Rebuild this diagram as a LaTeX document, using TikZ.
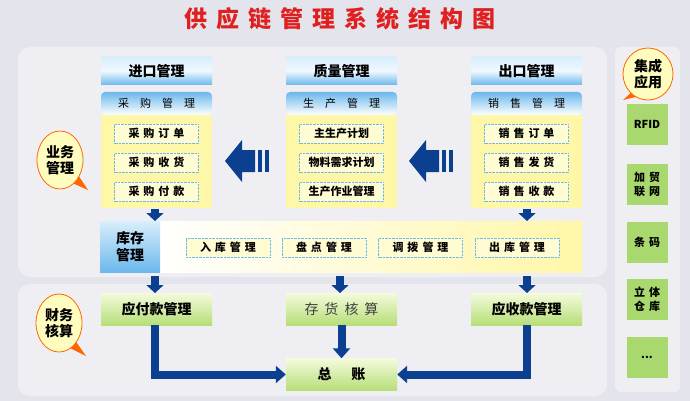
\documentclass[tikz,border=0pt]{standalone}
\usepackage{fontspec}
\setmainfont{Noto Sans CJK SC}
\usetikzlibrary{arrows.meta,shapes.geometric}
\definecolor{bg}{HTML}{E4E4EC}
\definecolor{panel}{HTML}{EFEFF3}
\definecolor{dblue}{HTML}{0B3F8F}
\definecolor{lblue}{HTML}{D8EEFC}
\definecolor{mblue}{HTML}{6CB8EC}
\definecolor{ylw}{HTML}{FFF7A8}
\definecolor{gtop}{HTML}{F4FBDC}
\definecolor{gbot}{HTML}{B6DE78}
\definecolor{rgreen}{HTML}{A9D86E}
\definecolor{ttl}{HTML}{E02020}
\newcommand\gapx{\hspace{4pt}}
\tikzset{
 hdr/.style={minimum width=111pt,minimum height=28pt,top color=lblue,bottom color=mblue,middle color=white!60!lblue,font=\fontsize{14}{14}\selectfont\bfseries,text=black,inner sep=0},
 sub/.style={minimum width=111pt,minimum height=23pt,rounded corners=4pt,top color=mblue,bottom color=white,font=\fontsize{11}{11}\selectfont,inner sep=0},
 body/.style={minimum width=111pt,minimum height=93pt,fill=ylw,inner sep=0},
 item/.style={draw=mblue,densely dotted,minimum width=84pt,minimum height=19pt,inner sep=0,font=\fontsize{11}{11}\selectfont\bfseries,fill=ylw!50!white},
 gbox/.style={minimum width=111pt,minimum height=32pt,top color=gtop,bottom color=gbot,inner sep=0,font=\fontsize{14}{14}\selectfont\bfseries},
 rbox/.style={minimum width=41pt,minimum height=41pt,fill=rgreen,inner sep=0,font=\fontsize{11}{14}\selectfont\bfseries,align=center},
 bub/.style={ellipse,draw=orange!80!red,fill=yellow!25,line width=0.8pt,minimum width=46pt,minimum height=58pt,inner sep=0,font=\fontsize{14}{16}\selectfont\bfseries,align=center},
 flow/.style={dblue,line width=8pt,-{Triangle[width=17pt,length=10pt]}},
 short/.style={dblue,line width=8pt,-{Triangle[width=17pt,length=8pt]}},
}
\begin{document}
\begin{tikzpicture}[x=1pt,y=-1pt]
\useasboundingbox (0,0) rectangle (690,401);
\fill[bg] (0,0) rectangle (690,401);
\node[text=ttl,font=\fontsize{23}{23}\selectfont\bfseries] (title) at (340,19) {供\hspace{9pt}应\hspace{9pt}链\hspace{9pt}管\hspace{9pt}理\hspace{9pt}系\hspace{9pt}统\hspace{9pt}结\hspace{9pt}构\hspace{9pt}图};
\fill[panel,rounded corners=12pt] (18,47) rectangle (607,277);
\fill[panel,rounded corners=12pt] (18,284) rectangle (607,396);
\fill[panel,rounded corners=6pt] (615,47) rectangle (680,392);
\foreach \n/\x/\h/\s/\a/\b/\c in {L/156.5/进口管理/采\quad 购\quad 管\quad 理/采\gapx 购\gapx 订\gapx 单/采\gapx 购\gapx 收\gapx 货/采\gapx 购\gapx 付\gapx 款,
 M/341.5/质量管理/生\quad 产\quad 管\quad 理/主生产计划/物料需求计划/生产作业管理,
 R/526.5/出口管理/销\quad 售\quad 管\quad 理/销\gapx 售\gapx 订\gapx 单/销\gapx 售\gapx 发\gapx 货/销\gapx 售\gapx 收\gapx 款}{
 \node[body] (b\n) at (\x,161.5) {};
 \node[sub] (s\n) at (\x,103.5) {\s};
 \node[hdr] (h\n) at (\x,71) {\h};
 \node[item] (i1\n) at (\x,133.5) {\a};
 \node[item] (i2\n) at (\x,162.5) {\b};
 \node[item] (i3\n) at (\x,191.5) {\c};
}
\foreach \x in {225,409}{
 \fill[dblue] (\x,161) -- (\x+17,140) -- (\x+17,150) -- (\x+30,150) -- (\x+30,172) -- (\x+17,172) -- (\x+17,182) -- cycle;
 \fill[dblue] (\x+33,150) rectangle (\x+37,172);
 \fill[dblue] (\x+40,150) rectangle (\x+44,172);
}
\shade[left color=white,right color=ylw] (160,221) rectangle (582,272);
\node[minimum width=60pt,minimum height=51pt,top color=lblue,bottom color=mblue,inner sep=0,font=\fontsize{14}{17}\selectfont\bfseries,align=center] (kc) at (130,246.5) {库存\\管理};
\node[item] (k1) at (228,247.5) {入\gapx 库\gapx 管\gapx 理};
\node[item] (k2) at (324,247.5) {盘\gapx 点\gapx 管\gapx 理};
\node[item] (k3) at (420.5,247.5) {调\gapx 拨\gapx 管\gapx 理};
\node[item] (k4) at (517,247.5) {出\gapx 库\gapx 管\gapx 理};
\draw[short] (155,209) -- (155,221);
\draw[short] (527,209) -- (527,221);
\node[gbox] (g1) at (156.5,309) {应付款管理};
\node[gbox,font=\fontsize{14}{14}\selectfont,text=black!75] (g2) at (341.5,309) {存\hspace{6pt}货\hspace{6pt}核\hspace{6pt}算};
\node[gbox] (g3) at (526.5,309) {应收款管理};
\node[gbox] (zz) at (341.5,374.5) {总\hspace{20pt}账};
\draw[short] (155,276) -- (155,293);
\draw[short] (340,276) -- (340,293);
\draw[short] (527,276) -- (527,293);
\draw[flow] (155,325) |- (zz.west);
\draw[flow] (527,325) |- (zz.east);
\draw[flow] (g2.south) -- (zz.north);
\fill[orange!80!red] (76,172) -- (88,190) -- (70,182) -- cycle;
\node[bub] (bw) at (60,160) {业务\\管理};
\fill[orange!80!red] (72,336) -- (86,356) -- (66,346) -- cycle;
\node[bub] (cw) at (59,323) {财务\\核算};
\fill[orange!80!red] (634,90) -- (623,100) -- (640,96) -- cycle;
\node[bub,minimum width=50pt,minimum height=52pt] (jc) at (648,74) {集成\\应用};
\node[rbox] (r1) at (647,124.5) {RFID};
\node[rbox] (r2) at (647,184.5) {加\gapx 贸\\联\gapx 网};
\node[rbox] (r3) at (647,242) {条\gapx 码};
\node[rbox] (r4) at (647,299.5) {立\gapx 体\\仓\gapx 库};
\node[rbox] (r5) at (647,357) {...};
\end{tikzpicture}
\end{document}
